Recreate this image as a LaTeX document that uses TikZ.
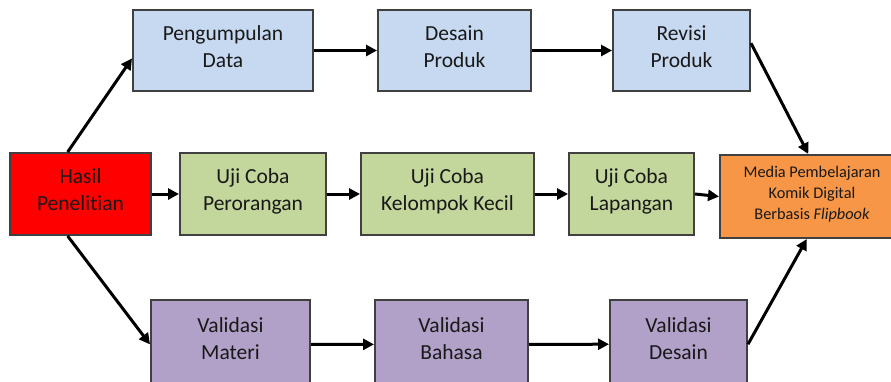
\documentclass[tikz,border=0pt]{standalone}
\usepackage{fontspec}
\setmainfont{Carlito}[Ligatures=NoCommon]
\usetikzlibrary{arrows.meta}

\definecolor{blokbiru}{HTML}{C6D9F1}
\definecolor{blokhijau}{HTML}{C3D69B}
\definecolor{blokungu}{HTML}{B1A0C7}
\definecolor{blokjingga}{HTML}{F79646}
\definecolor{garis}{HTML}{404040}

\begin{document}
\begin{tikzpicture}
[
	x=1pt, y=-1pt,
	blok/.style={rectangle,draw=garis,line width=2pt,align=center,inner sep=0pt,
		font=\fontsize{21.5}{27}\selectfont,text=black!90,
		execute at end node={\rule[-8pt]{0pt}{0pt}}},
	biru/.style={blok,fill=blokbiru,minimum height=81pt},
	hijau/.style={blok,fill=blokhijau,minimum height=82pt},
	ungu/.style={blok,fill=blokungu,minimum height=86pt},
	panah/.style={line width=3pt,-{Triangle[length=11pt,width=11pt]}}
]

	\useasboundingbox (0,0) rectangle (891,381);

	% awal
	\node[blok,fill=red,minimum width=141pt,minimum height=82pt] (hasil) at (80.5,194) {Hasil\\Penelitian};

	% baris atas
	\node[biru,minimum width=180pt] (kumpul) at (223,50.5) {Pengumpulan\\Data};
	\node[biru,minimum width=153pt] (desain) at (454.5,50.5) {Desain\\Produk};
	\node[biru,minimum width=137pt] (revisi) at (681.5,50.5) {Revisi\\Produk};

	% baris tengah
	\node[hijau,minimum width=146pt] (perorangan) at (253,194) {Uji Coba\\Perorangan};
	\node[hijau,minimum width=173pt] (kelompok) at (447.5,194) {Uji Coba\\Kelompok Kecil};
	\node[hijau,minimum width=125pt] (lapangan) at (631.5,194) {Uji Coba\\Lapangan};

	% baris bawah
	\node[ungu,minimum width=159pt] (materi) at (230.5,343) {Validasi\\Materi};
	\node[ungu,minimum width=153pt] (bahasa) at (451.5,343) {Validasi\\Bahasa};
	\node[ungu,minimum width=137pt] (valdesain) at (678.5,343) {Validasi\\Desain};

	% hasil akhir
	\node[blok,fill=blokjingga,minimum width=184pt,minimum height=83pt,
		font=\fontsize{16.3}{21}\selectfont,execute at end node={}] (media) at (812,196.5)
		{Media Pembelajaran\\Komik Digital\\Berbasis \textit{Flipbook}};

	% panah
	\draw[panah] (hasil.107) -- (kumpul.185);
	\draw[panah] (hasil.253) -- (materi.181);
	\foreach \a/\b in {kumpul/desain,desain/revisi,hasil/perorangan,perorangan/kelompok,
		kelompok/lapangan,lapangan/media} {
		\draw[panah] (\a.east) -- (\b.west);
	}
	\draw[panah] (materi.-1) -- (bahasa.181);
	\draw[panah] (bahasa.-1) -- (valdesain.181);
	\draw[panah] (revisi.6) -- (media.95);
	\draw[panah] (valdesain.-1) -- (media.263);

\end{tikzpicture}
\end{document}
